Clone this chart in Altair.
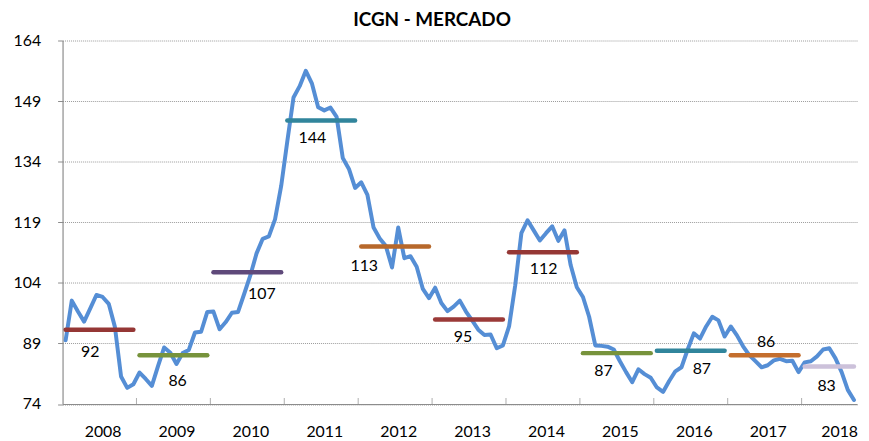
import altair as alt
import pandas as pd

# ---- data ----
years = [2008, 2009, 2010, 2011, 2012, 2013, 2014, 2015, 2016, 2017, 2018]

monthly = {
    2008: [89.8, 99.6, 96.9, 94.4, 97.7, 101.0, 100.5, 98.8, 93.1, 80.8, 78.0, 78.9],
    2009: [81.8, 80.2, 78.5, 83.4, 88.0, 86.7, 83.9, 86.6, 87.4, 91.7, 91.9, 96.8],
    2010: [96.9, 92.5, 94.3, 96.6, 96.8, 101.3, 105.9, 111.3, 114.9, 115.5, 119.7, 128.0],
    2011: [139.1, 149.9, 152.7, 156.5, 153.3, 147.5, 146.7, 147.4, 145.1, 134.9, 132.2, 127.5],
    2012: [128.9, 125.8, 117.7, 115.0, 113.1, 107.8, 117.7, 110.1, 110.6, 108.0, 102.5, 100.2],
    2013: [102.8, 99.0, 97.0, 98.1, 99.6, 96.9, 94.7, 92.4, 91.1, 91.2, 87.8, 88.5],
    2014: [93.2, 103.4, 116.3, 119.5, 117.0, 114.5, 116.3, 118.0, 114.4, 117.0, 108.4, 102.9],
    2015: [100.5, 95.6, 88.5, 88.4, 88.2, 87.5, 84.6, 81.9, 79.4, 82.6, 81.4, 80.5],
    2016: [78.1, 77.0, 79.7, 82.1, 83.1, 87.5, 91.5, 90.2, 93.2, 95.6, 94.7, 90.7],
    2017: [93.2, 91.0, 88.3, 86.1, 84.6, 83.1, 83.6, 84.8, 85.2, 84.6, 84.7, 81.9],
    2018: [84.3, 84.6, 85.8, 87.5, 87.8, 85.3, 81.9, 77.5, 75.0],
}

annual_avg = [92.4, 86.1, 106.6, 144.2, 113.0, 94.9, 111.6, 86.6, 87.2, 86.1, 83.3]

y_ticks = [74, 89, 104, 119, 134, 149, 164]

# ---- layout / style ----
avg_colors = ["#953735", "#77933C", "#5F497A", "#31859C", "#B7682B", "#9B3A38",
              "#953735", "#77933C", "#31859C", "#C46E2D", "#CCC1DA"]
label_pos = [4.48, 18.68, 32.37, 40.55, 48.99, 65.02, 78.11, 87.82, 103.8, 114.24, 124.06]
label_dy = [23, 26, 22, 18, 20, 18, 17, 18, 18, -13, 20]
year_label_pos = [6.5, 18.5, 30.5, 42.5, 54.5, 66.5, 78.5, 90.5, 102.5, 114.5, 126.1]

FONT = "Lato"
GRAY = "#8c8c8c"

# ---- tables ----
rows = []
k = 0
for yr in years:
    for v in monthly[yr]:
        rows.append({"m": k + 0.5, "value": v})
        k += 1
n_months = k
line_df = pd.DataFrame(rows)

seg_rows = []
start = 0
for i, yr in enumerate(years):
    n = len(monthly[yr])
    seg_rows.append({
        "year": str(yr),
        "start": start + 0.5,
        "end": start + n - 0.5,
        "avg": annual_avg[i],
        "pos": label_pos[i],
    })
    start += n
seg_df = pd.DataFrame(seg_rows)

tick_df = pd.DataFrame({"b": [12 * i for i in range(1, len(years))], "y0": y_ticks[0]})

x_scale = alt.Scale(domain=[0, n_months], nice=False, zero=False)
y_scale = alt.Scale(domain=[y_ticks[0], y_ticks[-1]], nice=False, zero=False)

x_axis = alt.Axis(
    values=year_label_pos,
    labelExpr="'' + (2008 + floor(datum.value / 12))",
    ticks=False, tickSize=0, labelPadding=20, grid=False,
    domainColor=GRAY, domainWidth=1.2, title=None,
    labelFont=FONT, labelFontSize=16, labelColor="#000000",
    labelFlush=False, labelOverlap=False,
)
y_axis = alt.Axis(
    values=y_ticks, grid=True, gridColor="#9a9a9a", gridDash=[1, 1], gridWidth=1,
    domainColor=GRAY, domainWidth=1.2, tickColor=GRAY, tickSize=5, labelPadding=17,
    title=None, labelFont=FONT, labelFontSize=16, labelColor="#000000",
    labelFlush=False, labelOverlap=False,
)


def X(field):
    return alt.X(f"{field}:Q", scale=x_scale, axis=x_axis)


def Y(field):
    return alt.Y(f"{field}:Q", scale=y_scale, axis=y_axis)


line = alt.Chart(line_df).mark_line(
    color="#558ED5", strokeWidth=4, strokeJoin="round", strokeCap="round"
).encode(x=X("m"), y=Y("value"))

segs = alt.Chart(seg_df).mark_rule(strokeWidth=4.5, strokeCap="round").encode(
    x=X("start"), x2="end:Q", y=Y("avg"),
    color=alt.Color("year:N", scale=alt.Scale(domain=[str(y) for y in years], range=avg_colors),
                    legend=None),
)

label_layers = []
for i, yr in enumerate(years):
    label_layers.append(
        alt.Chart(seg_df).transform_filter(alt.datum.year == str(yr)).mark_text(
            font=FONT, fontSize=16, color="#000000", align="center", baseline="middle",
            dy=label_dy[i],
        ).encode(
            x=X("pos"), y=Y("avg"),
            text=alt.Text("avg:Q", format=".0f"),
        )
    )

ticks = alt.Chart(tick_df).mark_tick(
    orient="vertical", size=6, thickness=1, color=GRAY, yOffset=-3
).encode(x=X("b"), y=Y("y0"))

chart = alt.layer(line, ticks, segs, *label_layers).properties(
    width=801, height=366.5,
    padding={"left": 55, "top": 31, "right": 4, "bottom": 34.5},
    autosize=alt.AutoSizeParams(type="none"),
    title=alt.TitleParams("ICGN - MERCADO", font=FONT, fontSize=19, fontWeight="bold",
                          color="#000000", anchor="middle", dx=-28, offset=3),
).configure_view(stroke=None)

chart.save("out.html", embed_options={"renderer": "svg", "actions": False})
